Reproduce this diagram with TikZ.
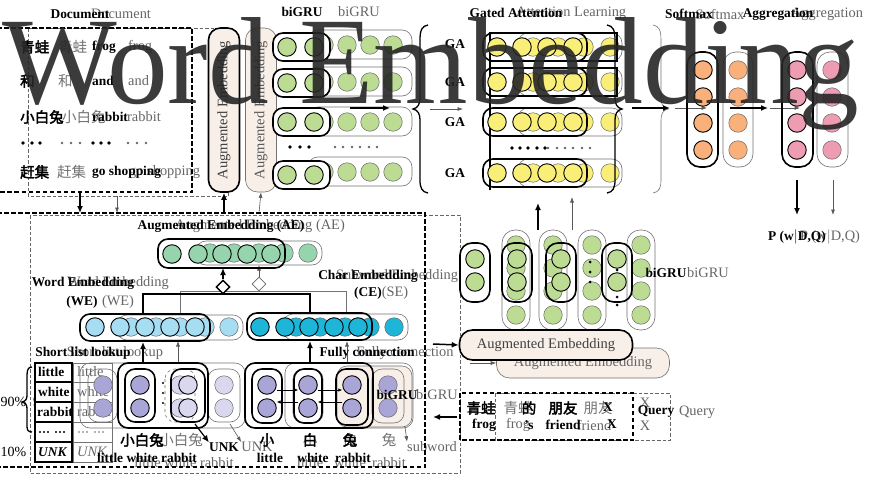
\documentclass[tikz,border=0pt]{standalone}
\usepackage{fontspec}
\setmainfont{Liberation Serif}
\newfontfamily\cjk{Noto Sans CJK SC}
\newfontfamily\cjkb{Noto Sans CJK SC}[FakeBold=2.5]
\usetikzlibrary{arrows.meta,shapes.geometric}
\definecolor{cMint}{HTML}{96D4AE}
\definecolor{cSky}{HTML}{A6DDF2}
\definecolor{cCyan}{HTML}{1DB6D8}
\definecolor{cLime}{HTML}{BCDB93}
\definecolor{cYel}{HTML}{F8EE78}
\definecolor{cOra}{HTML}{F9B07A}
\definecolor{cPink}{HTML}{EE9CB2}
\definecolor{cPur}{HTML}{A9A6D7}
\definecolor{cLav}{HTML}{DAD8EF}
\definecolor{cBeige}{HTML}{F8EFE9}
\tikzset{
 dtxt/.style={font=\fontsize{13.4}{15}\selectfont\bfseries, inner sep=0pt},
 ltxt/.style={font=\fontsize{14.4}{16}\selectfont, text=black!60, inner sep=0pt},
 dcn/.style={font=\cjkb\fontsize{14.5}{16}\selectfont, inner sep=0pt},
 lcn/.style={font=\cjk\fontsize{14.5}{16}\selectfont, text=black!55, inner sep=0pt},
 dline/.style={draw=black, line width=1.5pt},
 lline/.style={draw=black!55, line width=0.6pt},
 dbox/.style={draw=black, line width=1.6pt, rounded corners=10pt},
 lbox/.style={draw=black!55, line width=0.6pt, rounded corners=10pt},
 ddash/.style={draw=black, line width=1.5pt, dash pattern=on 4.5pt off 2.5pt},
 ldash/.style={draw=black!60, line width=0.6pt, dash pattern=on 3.5pt off 2pt},
 dball/.style={circle, draw=black, line width=0.9pt, minimum size=18.5pt, inner sep=0pt},
 lball/.style={circle, draw=black!60, line width=0.5pt, minimum size=18.5pt, inner sep=0pt},
 darr/.style={draw=black, line width=1.5pt, -{Latex[length=7pt,width=6pt]}},
 larr/.style={draw=black!65, line width=0.6pt, -{Latex[length=5.5pt,width=4pt]}},
 sarr/.style={draw=black, line width=1pt, -{Latex[length=4pt,width=3.5pt]}},
 bdot/.style={fill=black},
 gdot/.style={fill=black!60},
 embv/.style={rotate=90, rounded corners=12pt, fill=cBeige, minimum width=164pt, minimum height=31pt, inner sep=0pt, font=\fontsize{14.5}{16}\selectfont},
 embh/.style={rounded corners=13pt, fill=cBeige, minimum width=173pt, minimum height=30pt, inner sep=0pt, font=\fontsize{14.5}{16}\selectfont},
}
\begin{document}
\begin{tikzpicture}[x=1pt,y=-1pt]
\useasboundingbox (0,0) rectangle (871,485);
\fill[white] (0,0) rectangle (871,485);

%%%%%%%%%%%%%%%% LIGHT LAYER %%%%%%%%%%%%%%%%
\node[ltxt] (lDoc) at (121,14) {Document};
\draw[ldash] (28,28) rectangle (228,196);
\node[lcn,anchor=west] (lR1a) at (58,47) {青蛙};
\node[ltxt,anchor=west] (lR1b) at (128,47) {frog};
\node[lcn,anchor=west] (lR2a) at (58,81) {和};
\node[ltxt,anchor=west] (lR2b) at (128,81) {and};
\node[lcn,anchor=west] (lR3a) at (62,117) {小白兔};
\node[ltxt,anchor=west] (lR3b) at (127,117) {rabbit};
\foreach \x in {62,71,80,128,137,146} \fill[gdot] (\x,143) circle (1.3pt);
\node[lcn,anchor=west] (lR5a) at (57,172) {赶集};
\node[ltxt,anchor=west] (lR5b) at (129,172) {go shopping};
\coordinate (lDocS) at (117,196); \coordinate (lDocE) at (117,213);
\draw[larr] (lDocS) -- (lDocE);

\node[embv, draw=black!55, line width=0.6pt, text=black!65] (lAEv) at (261,110) {Augmented Embedding};
\coordinate (lAEvS) at (259,213);
\draw[larr] (lAEvS) -- (lAEv.west);

\node[ltxt] (lbiGRU) at (359,12) {biGRU};
\foreach \y [count=\r] in {45,82,122,172}{
  \draw[lbox] (308,\y-15) rectangle (412,\y+14);
  \foreach \x [count=\k] in {324,347,370,393}
    \node[lball,fill=cLime] (lgA\r\k) at (\x,\y) {};
}
\foreach \x in {335,343,352,360,369,377} \fill[gdot] (\x,147) circle (1.3pt);
\coordinate (lGAs) at (430,109); \coordinate (lGAe) at (463,109);
\draw[larr] (lGAs) -- (lGAe);

\node[ltxt,anchor=west] (lGAL) at (516,13) {Attention Learning};
\foreach \y [count=\r] in {47,82,122,173}{
  \draw[lbox] (518,\y-14) rectangle (622,\y+14);
  \foreach \x [count=\k] in {533,558,584,610}
    \node[lball,fill=cYel] (lyA\r\k) at (\x,\y) {};
}
\foreach \x in {548,557,565,573,582,590} \fill[gdot] (\x,148) circle (1.3pt);
\draw[lline] (653,25) .. controls (659,26) and (661,30) .. (661,40) -- (661,98) .. controls (661,104) and (663,108) .. (668,109) .. controls (663,110) and (661,114) .. (661,120) -- (661,180) .. controls (661,188) and (659,192) .. (653,193);
\coordinate (lSMs) at (675,108); \coordinate (lSMe) at (707,108);
\draw[larr] (lSMs) -- (lSMe);

\node[ltxt] (lSoft) at (720,14) {Softmax};
\draw[lbox,rounded corners=13pt] (723,52) rectangle (753,167);
\foreach \y [count=\k] in {70,97,123,150} \node[lball,fill=cOra] (loA\k) at (738,\y) {};
\node[ltxt] (lAgg) at (827,14) {Aggregation};
\draw[lbox,rounded corners=13pt] (817,52) rectangle (848,167);
\foreach \y [count=\k] in {70,97,123,150} \node[lball,fill=cPink] (lpA\k) at (832,\y) {};
\coordinate (lAGs) at (770,108); \coordinate (lAGe) at (800,108);
\draw[larr] (lAGs) -- (lAGe);
\node[ltxt] (lP) at (830,237) {P (w$|$D,Q)};
\coordinate (lPs) at (833,180); \coordinate (lPe) at (833,215);
\draw[larr] (lPs) -- (lPe);

\draw[ldash] (30,215) rectangle (460,473);
\node[ltxt] (lAEl) at (260,226) {Augmented Embedding (AE)};
\draw[lbox] (196,241) rectangle (322,265);
\foreach \x [count=\k] in {210,234,259,284,308} \node[lball,fill=cMint] (lmA\k) at (\x,253) {};
\draw[lline] (180,313) -- (180,291) -- (346,291) -- (346,313);
\node[diamond, draw=black!60, line width=0.6pt, fill=white, minimum width=14pt, minimum height=14pt, inner sep=0pt] (lDia) at (259,284) {};
\coordinate (lDiaE) at (259,265);
\draw[larr] (lDia.north) -- (lDiaE);
\node[ltxt] (lWE1) at (118,283) {Word Embedding};
\node[ltxt] (lWE2) at (118,302) {(WE)};
\draw[lbox] (117,315) rectangle (243,340);
\foreach \x [count=\k] in {131,156,180,205,229} \node[lball,fill=cSky] (lsA\k) at (\x,327) {};
\node[ltxt] (lSE1) at (397,276) {Subword Embedding};
\node[ltxt] (lSE2) at (395,293) {(SE)};
\draw[lbox] (283,314) rectangle (408,340);
\foreach \x [count=\k] in {296,320,345,370,394} \node[lball,fill=cCyan] (lcA\k) at (\x,327) {};

\node[ltxt] (lSL) at (115,353) {Short list lookup};
\draw[lline] (73,363) rectangle (112,462);
\foreach \y in {382,402,422,442} \draw[lline] (73,\y) -- (112,\y);
\node[ltxt,anchor=west] (lT1) at (77,372) {little};
\node[ltxt,anchor=west] (lT2) at (77,392) {white};
\node[ltxt,anchor=west] (lT3) at (77,412) {rabbit};
\foreach \x in {79,83,87,95,99,103} \fill[gdot] (\x,432) circle (0.9pt);
\node[ltxt,anchor=west] (lT5) at (77,452) {\itshape UNK};
\node[ltxt] (l90) at (46,402) {90\%};

\draw[lbox] (80,363) rectangle (245,428);
\draw[lbox] (88,369) rectangle (117,422);
\node[lball,fill=cPur] (lpu1) at (103,385) {};
\node[lball,fill=cPur] (lpu2) at (103,408) {};
\draw[lbox,dashed] (165,369) rectangle (195,422);
\node[lball,fill=cLav] (lpu3) at (180,385) {};
\node[lball,fill=cLav] (lpu4) at (180,408) {};
\draw[lbox] (208,369) rectangle (240,422);
\node[lball,fill=cLav] (lpu5) at (224,385) {};
\node[lball,fill=cLav] (lpu6) at (224,408) {};
\coordinate (lWEs) at (178,363); \coordinate (lWEe) at (178,341);
\draw[larr] (lWEs) -- (lWEe);
\node[lcn] (lXBT) at (181,440) {小白兔};
\node[ltxt] (lLWR) at (184,463) {little white rabbit};
\node[ltxt] (lUNK) at (257,447) {UNK};
\coordinate (lUs) at (230,424);
\draw[larr] (lUs) -- (lUNK.north west);

\draw[lbox] (285,363) rectangle (413,428);
\draw[lbox,fill=cBeige] (337,366) rectangle (412,427);
\draw[lbox] (293,369) rectangle (323,423);
\node[lball,fill=cPur] (lpv1) at (308,385) {};
\node[lball,fill=cPur] (lpv2) at (308,408) {};
\draw[lbox] (372,369) rectangle (404,423);
\node[lball,fill=cPur] (lpv3) at (388,385) {};
\node[lball,fill=cPur] (lpv4) at (388,408) {};
\coordinate (lCEs) at (347,363); \coordinate (lCEe) at (347,341);
\draw[larr] (lCEs) -- (lCEe);
\node[lcn] (lC1) at (310,440) {小};
\node[lcn] (lC2) at (350,440) {白};
\node[lcn] (lC3) at (389,440) {兔};
\node[ltxt] (lE1) at (310,463) {little};
\node[ltxt] (lE2) at (350,463) {white};
\node[ltxt] (lE3) at (389,463) {rabbit};
\node[ltxt] (lSub) at (432,447) {subword};
\coordinate (lSs) at (405,427);
\draw[larr] (lSs) -- (lSub.north west);
\node[ltxt] (lbG2) at (437,395) {biGRU};
\node[ltxt] (lFC) at (405,353) {Fully connection};

\foreach \x [count=\c] in {516,553,592,641}{
  \draw[lbox,rounded corners=13pt] (\x-14,230) rectangle (\x+14,330);
  \foreach \y [count=\k] in {245,268,291,315}
    \node[lball,fill=cLime] (lgB\c\k) at (\x,\y) {};
}
\node[ltxt] (lbG3) at (708,273) {biGRU};
\node[embh, draw=black!55, line width=0.6pt, text=black!60] (lAEh) at (583,363) {Augmented Embedding};
\coordinate (lAHs) at (470,363);
\draw[larr] (lAHs) -- (lAEh.west);
\coordinate (lQs) at (485,412); \coordinate (lQe) at (466,412);
\draw[larr] (lQs) -- (lQe);
\draw[ldash] (495,393) rectangle (670,440);
\node[lcn] (lQ1) at (518,408) {青蛙};
\node[ltxt] (lQ2) at (518,425) {frog};
\node[lcn] (lQ3) at (598,408) {朋友};
\node[ltxt] (lQ4) at (594,425) {friend};
\node[ltxt] (lQ5) at (645,403) {X};
\node[ltxt] (lQ6) at (645,426) {X};
\node[ltxt] (lQ7) at (697,412) {Query};

%%%%%%%%%%%%%%%% DARK LAYER %%%%%%%%%%%%%%%%
\node[dtxt] (dDoc) at (80,14) {Document};
\draw[ddash] (-3,28) -- (192,28) -- (192,192) -- (-3,192);
\node[dcn,anchor=west] (dR1a) at (20,47) {青蛙};
\node[dtxt,anchor=west] (dR1b) at (92,47) {frog};
\node[dcn,anchor=west] (dR2a) at (20,81) {和};
\node[dtxt,anchor=west] (dR2b) at (92,81) {and};
\node[dcn,anchor=west] (dR3a) at (20,117) {小白兔};
\node[dtxt,anchor=west] (dR3b) at (92,117) {rabbit};
\foreach \x in {23,32,40,93,101,109} \fill[bdot] (\x,143) circle (1.8pt);
\node[dcn,anchor=west] (dR5a) at (20,172) {赶集};
\node[dtxt,anchor=west] (dR5b) at (92,172) {go shopping};
\coordinate (dDocS) at (80,192); \coordinate (dDocE) at (80,213);
\draw[darr] (dDocS) -- (dDocE);

\node[embv, draw=black, line width=1.6pt, text=black!75] (dAEv) at (224,110) {Augmented Embedding};
\coordinate (dAEvS) at (224,213);
\draw[darr] (dAEvS) -- (dAEv.west);

\node[dtxt] (dbiGRU) at (302,12) {biGRU};
\foreach \y [count=\r] in {47,83,122,175}{
  \draw[dbox,fill=white] (273,\y-14) rectangle (330,\y+14);
  \foreach \x [count=\k] in {287,314}
    \node[dball,fill=cLime] (dgA\r\k) at (\x,\y) {};
}
\foreach \x in {290,300,309} \fill[bdot] (\x,147) circle (1.8pt);
\draw[dline,line width=1.3pt] (428,25) .. controls (422,26) and (420,30) .. (420,40) -- (420,98) .. controls (420,104) and (418,108) .. (413,109) .. controls (418,110) and (420,114) .. (420,120) -- (420,180) .. controls (420,188) and (422,192) .. (428,193);
\foreach \y [count=\r] in {44,82,122,173} \node[dtxt] (dGA\r) at (455,\y) {GA};
\coordinate (dGAs) at (350,108); \coordinate (dGAe) at (390,108);
\draw[darr] (dGAs) -- (dGAe);

\node[dtxt] (dGAt) at (516,13) {Gated Attention};
\draw[dline,line width=1.2pt] (490,33) -- (490,190);
\foreach \y in {47,82} \draw[dline,line width=1.2pt] (490,\y-14) rectangle (617,\y+14);
\foreach \y [count=\r] in {47,82,122,173}{
  \draw[dbox] (483,\y-14) rectangle (587,\y+14);
  \foreach \x [count=\k] in {497,522,547,573}
    \node[dball,fill=cYel] (dyA\r\k) at (\x,\y) {};
}
\foreach \x in {512,520,528,537,545} \fill[bdot] (\x,148) circle (1.8pt);
\draw[dline,line width=1.3pt] (607,25) .. controls (613,26) and (615,30) .. (615,40) -- (615,98) .. controls (615,104) and (617,108) .. (622,109) .. controls (617,110) and (615,114) .. (615,120) -- (615,180) .. controls (615,188) and (613,192) .. (607,193);
\coordinate (dSMs) at (632,108); \coordinate (dSMe) at (670,108);
\draw[darr] (dSMs) -- (dSMe);
\coordinate (dUp1s) at (538,230); \coordinate (dUp1e) at (538,203);
\draw[darr] (dUp1s) -- (dUp1e);
\coordinate (lUp1s) at (572,230); \coordinate (lUp1e) at (572,197);
\draw[larr] (lUp1s) -- (lUp1e);

\node[dtxt] (dSoft) at (689,14) {Softmax};
\draw[dbox,rounded corners=13pt] (687,52) rectangle (718,167);
\foreach \y [count=\k] in {70,97,123,150} \node[dball,fill=cOra] (doA\k) at (703,\y) {};
\node[dtxt] (dAgg) at (778,14) {Aggregation};
\draw[dbox,rounded corners=13pt] (782,52) rectangle (813,167);
\foreach \y [count=\k] in {70,97,123,150} \node[dball,fill=cPink] (dpA\k) at (797,\y) {};
\coordinate (dAGs) at (730,108); \coordinate (dAGe) at (768,108);
\draw[darr] (dAGs) -- (dAGe);
\node[dtxt] (dP) at (797,237) {P (w$|$D,Q)};
\coordinate (dPs) at (797,180); \coordinate (dPe) at (797,215);
\draw[darr] (dPs) -- (dPe);

\draw[ddash] (-3,213) -- (425,213) -- (425,467) -- (-3,467);
\node[dtxt] (dAEl) at (221,226) {Augmented Embedding (AE)};
\draw[dbox] (158,239) rectangle (285,268);
\foreach \x [count=\k] in {172,198,222,247,271} \node[dball,fill=cMint] (dmA\k) at (\x,254) {};
\draw[dline] (143,313) -- (143,294) -- (310,294) -- (310,313);
\node[diamond, draw=black, line width=1.4pt, fill=white, minimum width=14pt, minimum height=14pt, inner sep=0pt] (dDia) at (223,287) {};
\coordinate (dDiaE) at (223,268);
\draw[darr] (dDia.north) -- (dDiaE);
\node[dtxt] (dWE1) at (83,283) {Word Embedding};
\node[dtxt] (dWE2) at (82,302) {(WE)};
\draw[dbox] (80,314) rectangle (210,341);
\foreach \x [count=\k] in {95,120,145,170,195} \node[dball,fill=cSky] (dsA\k) at (\x,327) {};
\node[dtxt] (dCE1) at (368,276) {Char Embedding};
\node[dtxt] (dCE2) at (368,293) {(CE)};
\draw[dbox] (247,313) rectangle (372,340);
\foreach \x [count=\k] in {260,285,309,334,358} \node[dball,fill=cCyan] (dcA\k) at (\x,327) {};

\node[dtxt] (dSL) at (83,353) {Short list lookup};
\draw[dline,line width=1.2pt,fill=white] (35,363) rectangle (72,462);
\foreach \y in {382,402,422,442} \draw[dline,line width=1.2pt] (35,\y) -- (72,\y);
\node[dtxt,anchor=west] (dT1) at (38,372) {little};
\node[dtxt,anchor=west] (dT2) at (38,392) {white};
\node[dtxt,anchor=west] (dT3) at (37,412) {rabbit};
\foreach \x in {40,44,48,56,60,64} \fill[bdot] (\x,432) circle (1.1pt);
\node[dtxt,anchor=west] (dT5) at (38,452) {\itshape UNK};
\draw[dline,line width=1.3pt] (32,367) .. controls (28,367) and (27,370) .. (27,376) -- (27,395) .. controls (27,399) and (26,401) .. (22,402) .. controls (26,403) and (27,405) .. (27,409) -- (27,426) .. controls (27,430) and (28,432) .. (32,432);
\node[dtxt,font=\fontsize{14}{16}\selectfont,anchor=west] (d90) at (0.5,402) {90\%};
\node[dtxt,font=\fontsize{14}{16}\selectfont,anchor=west] (d10) at (0.5,452) {10\%};

\draw[dbox] (118,363) rectangle (208,428);
\draw[dbox] (125,369) rectangle (155,422);
\node[dball,fill=cPur] (dpu1) at (140,385) {};
\node[dball,fill=cPur] (dpu2) at (140,408) {};
\foreach \y in {383,393,403} \fill[bdot] (163,\y) circle (1.2pt);
\draw[dbox] (171,369) rectangle (205,422);
\node[dball,fill=cLav] (dpu3) at (188,385) {};
\node[dball,fill=cLav] (dpu4) at (188,408) {};
\coordinate (dWEs) at (143,363); \coordinate (dWEe) at (143,342);
\draw[darr] (dWEs) -- (dWEe);
\node[dcn] (dXBT) at (142,440) {小白兔};
\node[dtxt] (dLWR) at (147,458) {little white rabbit};
\node[dtxt] (dUNK) at (224,447) {UNK};
\coordinate (dUs) at (195,424);
\draw[darr,line width=1.2pt] (dUs) -- (dUNK.north west);

\draw[dbox] (245,363) rectangle (373,428);
\draw[dbox] (252,369) rectangle (282,423);
\node[dball,fill=cPur] (dpv1) at (267,385) {};
\node[dball,fill=cPur] (dpv2) at (267,408) {};
\draw[dbox] (294,369) rectangle (322,423);
\node[dball,fill=cPur] (dpv3) at (308,385) {};
\node[dball,fill=cPur] (dpv4) at (308,408) {};
\draw[dbox] (336,369) rectangle (368,425);
\node[dball,fill=cPur] (dpv5) at (352,385) {};
\node[dball,fill=cPur] (dpv6) at (352,408) {};
\draw[sarr] (dpv1.east |- 0,390) -- (dpv3.west |- 0,390);
\draw[sarr] (dpv4.west |- 0,402) -- (dpv2.east |- 0,402);
\draw[sarr] (dpv3.east |- 0,390) -- (dpv5.west |- 0,390);
\draw[sarr] (dpv6.west |- 0,402) -- (dpv4.east |- 0,402);
\coordinate (dCEs) at (310,363); \coordinate (dCEe) at (310,341);
\draw[darr] (dCEs) -- (dCEe);
\node[dcn] (dC1) at (267,440) {小};
\node[dcn] (dC2) at (310,440) {白};
\node[dcn] (dC3) at (350,440) {兔};
\node[dtxt] (dE1) at (270,458) {little};
\node[dtxt] (dE2) at (313,458) {white};
\node[dtxt] (dE3) at (353,458) {rabbit};
\node[dtxt] (dbG2) at (397,395) {biGRU};
\node[dtxt] (dFC) at (367,353) {Fully connection};

\foreach \x [count=\c] in {475,517,561,617}{
  \draw[dbox,rounded corners=12pt] (\x-15,243) rectangle (\x+15,302);
  \foreach \y [count=\k] in {259,282}
    \node[dball,fill=cLime] (dgB\c\k) at (\x,\y) {};
}
\foreach \p in {(590,262),(590,272),(590,282),(617,270),(617,297),(617,305)} \fill[bdot] \p circle (1.5pt);
\node[dtxt] (dbG3) at (666,273) {biGRU};
\node[embh, draw=black, line width=1.6pt, text=black!75] (dAEh) at (546,345) {Augmented Embedding};
\coordinate (dAHs) at (433,344);
\draw[darr] (dAHs) -- (dAEh.west);
\coordinate (dQs) at (457,417); \coordinate (dQe) at (433,417);
\draw[darr] (dQs) -- (dQe);
\draw[ddash] (460,393) rectangle (633,440);
\node[dcn] (dQ1) at (481,408) {青蛙};
\node[dtxt] (dQ2) at (484,425) {frog};
\node[dcn] (dQ3) at (529,408) {的};
\node[dtxt] (dQ4) at (529,425) {'s};
\node[dcn] (dQ5) at (563,408) {朋友};
\node[dtxt] (dQ6) at (563,425) {friend};
\node[dtxt] (dQ7) at (608,407) {X};
\node[dtxt] (dQ8) at (612,424) {X};
\node[dtxt] (dQ9) at (656,412) {Query};

%%%%%%%%%%%%%%%% OVERLAY TITLE %%%%%%%%%%%%%%%%
\node[anchor=base west, inner sep=0pt, yscale=1.02, font=\fontsize{121.5}{122}\selectfont, text=black!85, opacity=0.9] (bigWE) at (2,103) {Word Embedding};
\end{tikzpicture}
\end{document}
